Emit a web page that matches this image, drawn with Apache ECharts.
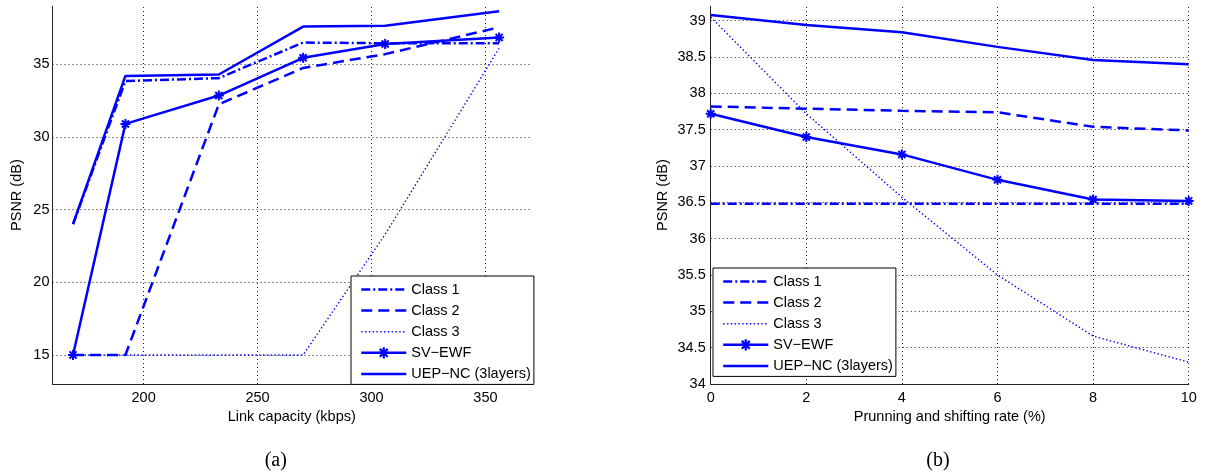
<!DOCTYPE html>
<html><head><meta charset="utf-8">
<script src="https://cdn.jsdelivr.net/npm/echarts@6/dist/echarts.min.js"></script>
<style>html,body{margin:0;padding:0;background:#fff}#c{width:1207px;height:474px}</style>
</head><body><div id="c"></div>
<script>
// ---------- data ----------
const seriesNames = ['Class 1', 'Class 2', 'Class 3', 'SV\u2212EWF', 'UEP\u2212NC (3layers)'];
// (a) PSNR vs link capacity
const capacityKbps = [169, 192, 233, 270, 306, 356];
const aClass1 = [24.0, 33.85, 34.05, 36.5, 36.45, 36.45];
const aClass2 = [15, 15, 32.25, 34.75, 35.7, 37.55];
const aClass3 = [15, 15, 15, 15, 23.3, 36.1];
const aSvEwf  = [15, 30.9, 32.85, 35.45, 36.4, 36.85];
const aUepNc  = [24.0, 34.2, 34.3, 37.6, 37.65, 38.65];
// (b) PSNR vs prunning and shifting rate
const rateX   = [0, 2, 4, 6, 8, 10];
const bClass1 = [36.48, 36.48, 36.48, 36.48, 36.48, 36.48];
const bClass2 = [37.82, 37.79, 37.76, 37.74, 37.54, 37.49];
const bClass3 = [39.05, 37.72, 36.57, 35.5, 34.66, 34.3];
const bSvEwf  = [37.72, 37.40, 37.16, 36.81, 36.54, 36.52];
const bUepNc  = [39.08, 38.94, 38.84, 38.64, 38.46, 38.40];
// tick / grid values
const aXTicks = [200, 250, 300, 350];
const aYTicks = [15, 20, 25, 30, 35];
const bXTicks = [0, 2, 4, 6, 8, 10];
const bYTicks = [34, 34.5, 35, 35.5, 36, 36.5, 37, 37.5, 38, 38.5, 39];

// ---------- styles ----------
const BLUE = '#0000ff';
const FONT = 'Liberation Sans';
const FS = 14.5;
const STAR = 'path://M-1,-5L1,-5L1,5L-1,5Z M5,-1L5,1L-5,1L-5,-1Z ' +
  'M2.828,-4.243L4.243,-2.828L-2.828,4.243L-4.243,2.828Z ' +
  'M-4.243,-2.828L-2.828,-4.243L4.243,2.828L2.828,4.243Z';
const styles = [
  { type: [9, 3, 2, 3], width: 2.5, symbol: 'none' },
  { type: [11, 6], width: 2.5, symbol: 'none' },
  { type: [1.4, 2.4], width: 1.4, symbol: 'none' },
  { type: 'solid', width: 2.5, symbol: STAR },
  { type: 'solid', width: 2.5, symbol: 'none' }
];
const aSets = [aClass1, aClass2, aClass3, aSvEwf, aUepNc];
const bSets = [bClass1, bClass2, bClass3, bSvEwf, bUepNc];

const gridLine = { color: '#222', width: 1, type: [1, 3] };
function gridMarks(xs, ys) {
  return {
    silent: true, symbol: ['none', 'none'], label: { show: false }, z: 1,
    animation: false, lineStyle: gridLine, emphasis: { disabled: true },
    data: ys.map(v => ({ yAxis: v })).concat(xs.map(v => ({ xAxis: v })))
  };
}
function makeSeries(gi, xs, sets, xt, yt) {
  return sets.map((arr, i) => {
    const s = {
      type: 'line', name: seriesNames[i], xAxisIndex: gi, yAxisIndex: gi,
      data: xs.map((x, k) => [x, arr[k]]),
      symbol: styles[i].symbol, symbolSize: 10, showSymbol: styles[i].symbol !== 'none',
      lineStyle: { color: BLUE, width: styles[i].width, type: styles[i].type },
      itemStyle: { color: BLUE },
      silent: true, animation: false, z: 3
    };
    if (i === 0) s.markLine = gridMarks(xt, yt);
    return s;
  });
}
function legendData() {
  return seriesNames.map((n, i) => ({
    name: n,
    itemStyle: styles[i].symbol === 'none' ? { opacity: 0 } : { color: BLUE },
    lineStyle: { width: styles[i].width, color: BLUE, type: styles[i].type }
  }));
}
function legendAt(left, top) {
  return {
    orient: 'vertical', left: left, top: top, itemWidth: 45, itemHeight: 14, itemGap: 6.1,
    padding: [6, 3, 3, 9], borderColor: '#000', borderWidth: 1, backgroundColor: '#fff',
    selectedMode: false, textStyle: { fontFamily: FONT, fontSize: FS, color: '#000' },
    data: legendData()
  };
}
const axisText = { fontFamily: FONT, fontSize: FS, color: '#000' };
const axLine = { show: true, onZero: false, lineStyle: { color: '#222', width: 1 } };

const option = {
  backgroundColor: '#fff',
  animation: false,
  title: [
    { text: '(a)', left: 264.7, top: 451, padding: 0,
      textStyle: { fontFamily: 'Liberation Serif', fontSize: 20, fontWeight: 'normal', color: '#000' } },
    { text: '(b)', left: 926.3, top: 451, padding: 0,
      textStyle: { fontFamily: 'Liberation Serif', fontSize: 20, fontWeight: 'normal', color: '#000' } }
  ],
  grid: [
    { left: 52.5, top: 6.2, width: 478.5, height: 377.8 },
    { left: 710.7, top: 6.2, width: 478, height: 377.8 }
  ],
  legend: [legendAt(351, 276), legendAt(713, 268)],
  xAxis: [
    { gridIndex: 0, type: 'value', min: 160, max: 370, interval: 10,
      axisLine: axLine, axisTick: { show: false }, splitLine: { show: false },
      axisLabel: Object.assign({ margin: 6, formatter: v => (v % 50 === 0 ? String(v) : '') }, axisText),
      name: 'Link capacity (kbps)', nameLocation: 'middle', nameGap: 23, nameTextStyle: axisText },
    { gridIndex: 1, type: 'value', min: 0, max: 10, interval: 2,
      axisLine: axLine, axisTick: { show: false }, splitLine: { show: false },
      axisLabel: Object.assign({ margin: 6 }, axisText),
      name: 'Prunning and shifting rate (%)', nameLocation: 'middle', nameGap: 23, nameTextStyle: axisText }
  ],
  yAxis: [
    { gridIndex: 0, type: 'value', min: 13, max: 39, interval: 1,
      axisLine: axLine, axisTick: { show: false }, splitLine: { show: false },
      axisLabel: Object.assign({ margin: 3, formatter: v => (v % 5 === 0 ? String(v) : '') }, axisText),
      name: 'PSNR (dB)', nameLocation: 'middle', nameGap: 28, nameTextStyle: axisText },
    { gridIndex: 1, type: 'value', min: 34, max: 39.2, interval: 0.5,
      axisLine: axLine, axisTick: { show: false }, splitLine: { show: false },
      axisLabel: Object.assign({ margin: 5, showMaxLabel: false,
        formatter: v => (Math.abs(v * 2 - Math.round(v * 2)) < 1e-6 ? String(v) : '') }, axisText),
      name: 'PSNR (dB)', nameLocation: 'middle', nameGap: 40, nameTextStyle: axisText }
  ],
  series: makeSeries(0, capacityKbps, aSets, aXTicks, aYTicks)
    .concat(makeSeries(1, rateX, bSets, bXTicks, bYTicks))
};
const chart = echarts.init(document.getElementById('c'), null, { renderer: 'canvas' });
chart.setOption(option);
</script>
</body></html>
